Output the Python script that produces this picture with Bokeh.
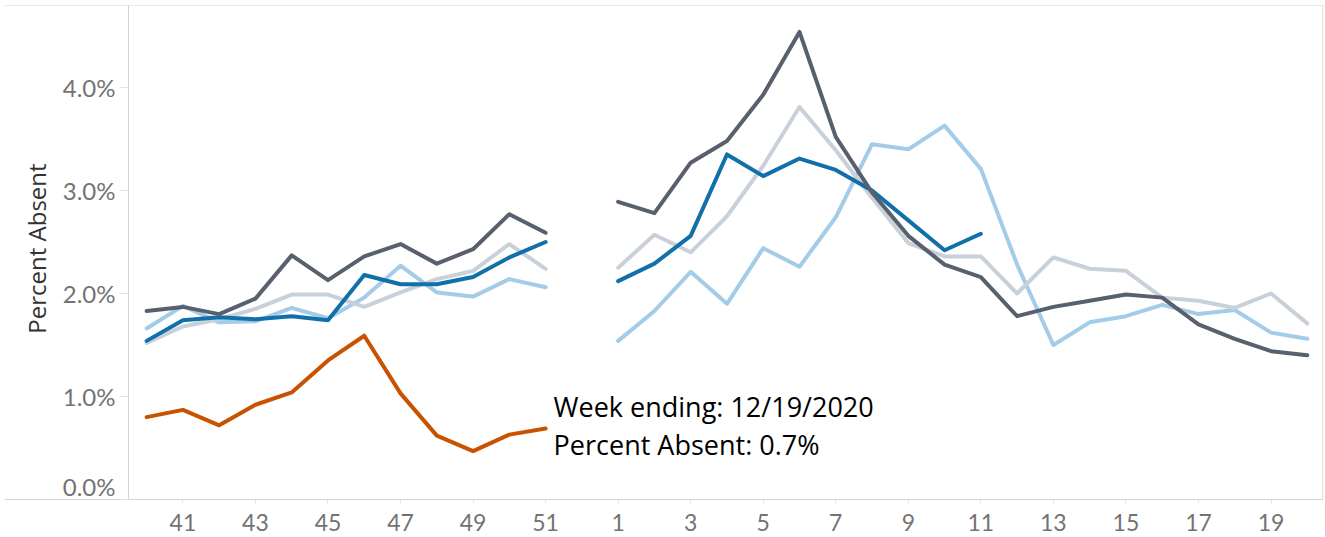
import numpy as np
from bokeh.plotting import figure
from bokeh.models import (Range1d, FixedTicker, ColumnDataSource, LinearAxis, Label)
from bokeh.core.properties import value
from bokeh.embed import file_html
from bokeh.resources import INLINE

# ---------------- data ----------------
weeks = ["40", "41", "42", "43", "44", "45", "46", "47", "48", "49", "50", "51", "52",
         "1", "2", "3", "4", "5", "6", "7", "8", "9", "10",
         "11", "12", "13", "14", "15", "16", "17", "18", "19", "20"]

tick_weeks = ["41", "43", "45", "47", "49", "51",
              "1", "3", "5", "7", "9", "11", "13", "15", "17", "19"]

y_ticks = [0, 1, 2, 3, 4]
y_tick_labels = ["0.0%", "1.0%", "2.0%", "3.0%", "4.0%"]

N = None
light_blue = [1.66, 1.88, 1.72, 1.73, 1.86, 1.76, 1.96, 2.27, 2.01, 1.97, 2.14, 2.06, N,
              1.54, 1.83, 2.21, 1.90, 2.44, 2.26, 2.74, 3.45, 3.40, 3.63,
              3.21, 2.28, 1.50, 1.72, 1.78, 1.89, 1.80, 1.84, 1.62, 1.56]
light_gray = [1.52, 1.68, 1.75, 1.85, 1.99, 1.99, 1.87, 2.01, 2.14, 2.22, 2.48, 2.24, N,
              2.25, 2.57, 2.40, 2.75, 3.24, 3.81, 3.39, 2.93, 2.49, 2.36,
              2.36, 2.00, 2.35, 2.24, 2.22, 1.96, 1.93, 1.86, 2.00, 1.71]
dark_gray = [1.83, 1.87, 1.80, 1.95, 2.37, 2.13, 2.36, 2.48, 2.29, 2.43, 2.77, 2.59, N,
             2.89, 2.78, 3.27, 3.48, 3.93, 4.54, 3.52, 2.98, 2.56, 2.28,
             2.16, 1.78, 1.87, 1.93, 1.99, 1.96, 1.70, 1.56, 1.44, 1.40]
dark_blue = [1.54, 1.74, 1.77, 1.75, 1.78, 1.74, 2.18, 2.09, 2.09, 2.16, 2.35, 2.50, N,
             2.12, 2.29, 2.56, 3.35, 3.14, 3.31, 3.20, 3.00, 2.71, 2.42,
             2.58, N, N, N, N, N, N, N, N, N]
current = [0.80, 0.87, 0.72, 0.92, 1.04, 1.35, 1.59, 1.03, 0.62, 0.47, 0.63, 0.69, N,
           N, N, N, N, N, N, N, N, N, N,
           N, N, N, N, N, N, N, N, N, N]

tooltip_week_ending = "12/19/2020"
y_title = "Percent Absent"

series = [
    (light_blue, "#a3cce9"),
    (light_gray, "#c8d0d9"),
    (dark_blue, "#1170aa"),
    (dark_gray, "#57606c"),
    (current, "#c85200"),
]

# ---------------- layout constants ----------------
W, H = 1325, 537
B_LEFT, B_RIGHT, B_TOP = 4, 2, 5
BASELINE_PX = 499          # canvas y of the zero line
PX_PER_PCT = 103.0
PX_PER_WEEK = 36.27
AXIS_PX = 124.0            # distance from frame left edge to the y axis line

frame_w = W - B_LEFT - B_RIGHT
frame_h = H - B_TOP
axis_x = -0.5
x_start = axis_x - AXIS_PX / PX_PER_WEEK
x_end = x_start + frame_w / PX_PER_WEEK
y_start = -(H - BASELINE_PX) / PX_PER_PCT
y_top = y_start + frame_h / PX_PER_PCT
x_edge = x_end - 0.6 / PX_PER_WEEK

def arr(v):
    return np.array([np.nan if t is None else t for t in v], dtype=float)

x = np.arange(len(weeks), dtype=float)

p = figure(width=W, height=H, output_backend="svg", toolbar_location=None,
           x_range=Range1d(x_start, x_end), y_range=Range1d(y_start, y_top),
           x_axis_location=None, y_axis_location=None,
           min_border_left=B_LEFT, min_border_right=B_RIGHT,
           min_border_top=B_TOP, min_border_bottom=0,
           background_fill_color="white", border_fill_color="white")

p.xgrid.grid_line_color = None
p.ygrid.grid_line_color = None
p.outline_line_color = None

RULE = "#d4d4d4"
# frame rules: top rule, y-axis line, right rule
p.segment(x0=[x_start, axis_x, x_edge], y0=[y_top, 0, 0],
          x1=[x_end, axis_x, x_edge], y1=[y_top, y_top, y_top],
          line_color=RULE, line_width=1)

for vals, col in series:
    p.line(x, arr(vals), line_color=col, line_width=4,
           line_join="round", line_cap="round")

# tooltip-like annotation at the last point of the current season
last_i = max(i for i, v in enumerate(current) if v is not None)
last_v = current[last_i]
line1 = "Week ending:  " + tooltip_week_ending
line2 = "Percent Absent:  " + f"{last_v:.1f}%"
src = ColumnDataSource(dict(x=[x[last_i], x[last_i]], y=[last_v, last_v],
                            text=[line1, line2], yo=[-22, 16]))
p.text(x="x", y="y", text="text", source=src, x_offset=8, y_offset="yo",
       text_font=value("Open Sans"), text_font_size="27px", text_color="black",
       text_align="left", text_baseline="alphabetic")

tick_font = "Lato"
LABEL_GRAY = "#737373"
TICK_GRAY = "#e4e4e4"

# y-axis title
p.add_layout(Label(x=x_start + 32 / PX_PER_WEEK, y=(BASELINE_PX - 248) / PX_PER_PCT,
                   text=y_title, angle=np.pi / 2, text_align="center",
                   text_baseline="middle", text_font="Open Sans",
                   text_font_size="24px", text_color="#333333"))

# ---- y axis (drawn at the left edge of the data area) ----
ya = LinearAxis(fixed_location=axis_x)
ya.ticker = FixedTicker(ticks=y_ticks)
ya.major_label_overrides = {t: (lab if t != 0 else "") for t, lab in zip(y_ticks, y_tick_labels)}
ya.major_label_text_font = tick_font
ya.major_label_text_font_size = "24px"
ya.major_label_text_color = LABEL_GRAY
ya.major_label_standoff = 4
ya.major_tick_in = 0
ya.major_tick_out = 9
ya.minor_tick_line_color = None
ya.axis_line_color = None
ya.major_tick_line_color = TICK_GRAY
p.add_layout(ya, "left")

# zero label sits just above the baseline (kept inside the pane)
zero_pos = 13.0 / PX_PER_PCT
ya0 = LinearAxis(fixed_location=axis_x)
ya0.ticker = FixedTicker(ticks=[zero_pos])
ya0.major_label_overrides = {zero_pos: y_tick_labels[0]}
ya0.major_label_text_font = tick_font
ya0.major_label_text_font_size = "24px"
ya0.major_label_text_color = LABEL_GRAY
ya0.major_label_standoff = 13
ya0.major_tick_in = 0
ya0.major_tick_out = 0
ya0.major_tick_line_color = None
ya0.minor_tick_line_color = None
ya0.axis_line_color = None
p.add_layout(ya0, "left")

# ---- x axis ----
tick_pos = [weeks.index(w) for w in tick_weeks]
xa = LinearAxis(fixed_location=0)
xa.ticker = FixedTicker(ticks=tick_pos)
xa.major_label_overrides = {i: w for i, w in zip(tick_pos, tick_weeks)}
xa.major_label_text_font = tick_font
xa.major_label_text_font_size = "23px"
xa.major_label_text_color = LABEL_GRAY
xa.major_label_standoff = 10
xa.major_tick_in = 0
xa.major_tick_out = 4
xa.minor_tick_line_color = None
xa.axis_line_color = RULE
xa.major_tick_line_color = TICK_GRAY
p.add_layout(xa, "below")

open("out.html", "w").write(file_html(p, INLINE))
